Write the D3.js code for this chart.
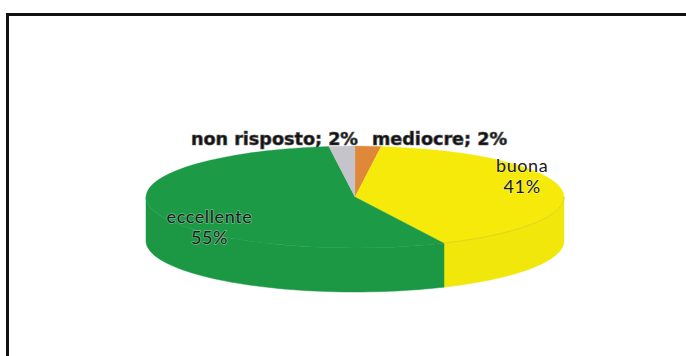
<!DOCTYPE html>
<html>
<head>
<meta charset="utf-8">
<script src="https://cdn.jsdelivr.net/npm/d3@7"></script>
<style>
  body { margin: 0; background: #fff; }
  svg { display: block; }
  .lbl-top { font-family: 'DejaVu Sans', sans-serif; font-weight: bold; font-size: 17.6px; fill: #111; }
  .lbl-in { font-family: Lato, 'Open Sans', sans-serif; font-size: 18px; letter-spacing: 0.6px; fill: #1a1a22; }
</style>
</head>
<body>
<div id="chart"></div>
<script>
// slices, clockwise from 12 o'clock
const categories = ['mediocre', 'buona', 'eccellente', 'non risposto'];
const values = [2, 41, 55, 2];
const colors = ['#e0883a', '#f5ea0a', '#1c9a45', '#c4c4ca'];

const width = 686;
const height = 356;

const cx = 355;
const cy = 197;
const rx = 209;
const ry = 51;
const depth = 44;

const svg = d3.select('#chart')
  .append('svg')
  .attr('width', width)
  .attr('height', height);

// frame, runs off the right and bottom edges
svg.append('rect')
  .attr('x', 7.5)
  .attr('y', 14.5)
  .attr('width', 720)
  .attr('height', 400)
  .attr('fill', '#fff')
  .attr('stroke', '#111')
  .attr('stroke-width', 3);

const pie = d3.pie().sort(null).value((d) => d.v);
const arcs = pie(categories.map((c, i) => ({ name: c, v: values[i], color: colors[i] })));

// point on the flattened ellipse, angle measured clockwise from top
const pt = (a, dy) => [cx + rx * Math.sin(a), cy - ry * Math.cos(a) + (dy || 0)];

const plot = svg.append('g').attr('class', 'pie-g');

// side walls, only the front half (pi/2 .. 3pi/2) shows
const sides = plot.append('g').attr('class', 'sides');
arcs.forEach((d) => {
  let a0 = Math.max(d.startAngle, Math.PI / 2);
  let a1 = Math.min(d.endAngle, Math.PI * 1.5);
  if (a1 <= a0) return;

  let steps = d3.range(0, 61).map((k) => a0 + (a1 - a0) * k / 60);
  let p = d3.path();
  steps.forEach((a, k) => {
    let q = pt(a);
    k === 0 ? p.moveTo(q[0], q[1]) : p.lineTo(q[0], q[1]);
  });
  steps.slice().reverse().forEach((a) => {
    let q = pt(a, depth);
    p.lineTo(q[0], q[1]);
  });
  p.closePath();

  let c = d3.color(d.data.color).darker(0.04);
  sides.append('path')
    .attr('d', p.toString())
    .attr('fill', c)
    .attr('stroke', c)
    .attr('stroke-width', 0.5);
});

// top face: ordinary arcs squashed vertically
const arc = d3.arc().innerRadius(0).outerRadius(rx);

const face = plot.append('g')
  .attr('transform', `translate(${cx},${cy}) scale(1,${ry / rx})`);

face.selectAll('path')
  .data(arcs)
  .enter()
  .append('path')
  .attr('d', arc)
  .attr('fill', (d) => d.data.color)
  .attr('stroke', (d) => d.data.color)
  .attr('stroke-width', 0.5);

// faint rim line on the yellow
plot.append('path')
  .attr('d', () => {
    let d = arcs[1];
    let p = d3.path();
    d3.range(0, 41).forEach((k) => {
      let a = Math.PI / 2 + (d.endAngle - Math.PI / 2) * k / 40;
      let q = pt(a);
      k === 0 ? p.moveTo(q[0], q[1]) : p.lineTo(q[0], q[1]);
    });
    return p.toString();
  })
  .attr('fill', 'none')
  .attr('stroke', '#ddd420')
  .attr('stroke-width', 1);

// labels
const lbls = svg.append('g').attr('class', 'lbls-g');

// small slices: outside, above the pie
lbls.append('text')
  .attr('class', 'lbl-top')
  .attr('x', cx + 3)
  .attr('y', cy - ry - 1)
  .attr('text-anchor', 'end')
  .attr('stroke', '#555')
  .attr('stroke-width', 0.7)
  .text(`${categories[3]}; ${values[3]}%`);

lbls.append('text')
  .attr('class', 'lbl-top')
  .attr('x', cx + 17)
  .attr('y', cy - ry - 1)
  .attr('text-anchor', 'start')
  .attr('stroke', '#555')
  .attr('stroke-width', 0.7)
  .text(`${categories[0]}; ${values[0]}%`);

// big slices: inside, two lines
const inner = [
  { i: 1, dx: 2, dy: -19 },
  { i: 2, dx: 15, dy: 15 },
];

inner.forEach((o) => {
  let d = arcs[o.i];
  let mid = (d.startAngle + d.endAngle) / 2;
  let q = [cx + rx * 0.8 * Math.sin(mid) + o.dx, cy - ry * 0.8 * Math.cos(mid) + o.dy];

  let t = lbls.append('text')
    .attr('class', 'lbl-in')
    .attr('text-anchor', 'middle')
    .attr('x', q[0])
    .attr('y', q[1])
    .style('paint-order', 'stroke')
    .attr('stroke', 'rgba(255,255,255,0.35)')
    .attr('stroke-width', 1.5);

  t.append('tspan').attr('x', q[0]).attr('dy', 0).text(d.data.name);
  t.append('tspan').attr('x', q[0]).attr('dy', 21).text(`${d.data.v}%`);
});
</script>
</body>
</html>
